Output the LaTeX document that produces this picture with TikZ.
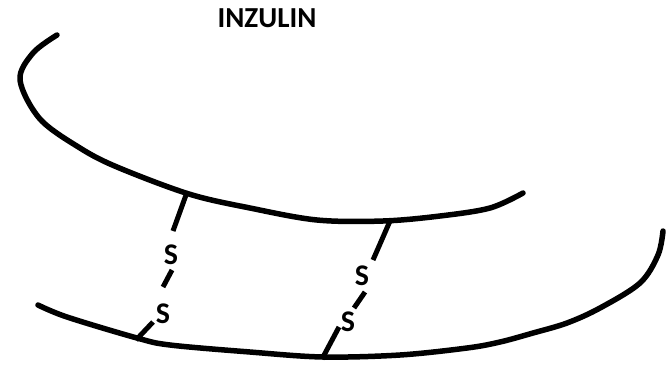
\documentclass[tikz,border=0pt]{standalone}
\usepackage{fontspec}
\setmainfont{Carlito}
\begin{document}
\begin{tikzpicture}[x=1pt,y=-1pt,
  chain/.style={line width=5.5pt,line cap=round,line join=round},
  bond/.style={line width=5pt},
  sulfur/.style={font=\fontsize{30}{30}\selectfont\bfseries,inner sep=0pt},
  title/.style={font=\fontsize{29}{29}\selectfont\bfseries,inner sep=0pt}]
\useasboundingbox (0,0) rectangle (669,365);

% title
\node[title] (label) at (267,18) {INZULIN};

% A chain (upper)
\draw[chain] plot[smooth,tension=0.55] coordinates {
  (57,35) (33,53) (20,80) (40,119) (80,148) (117,167) (189,194)
  (250,208) (317,220) (383,221) (440,216) (490,208) (523,193)};

% B chain (lower)
\draw[chain] plot[smooth,tension=0.55] coordinates {
  (38,305) (67,317) (137,338) (170,345) (250,352) (323,357)
  (400,355) (467,348) (500,342) (533,333) (567,323) (600,308)
  (640,283) (658,255) (663,231)};

% first disulfide bridge
\coordinate (ja) at (186,195);
\coordinate (ja1) at (173,231);
\node[sulfur] (sa1) at (171,255) {S};
\coordinate (ja2) at (172,270);
\coordinate (ja3) at (163,287);
\node[sulfur] (sa2) at (163,314) {S};
\coordinate (ja4) at (153,322);
\coordinate (jb) at (136,340);
\draw[bond] (ja) -- (ja1);
\draw[bond] (ja2) -- (ja3);
\draw[bond] (ja4) -- (jb);

% second disulfide bridge
\coordinate (ka) at (390,221);
\coordinate (ka1) at (373,260);
\node[sulfur] (sb1) at (362,276) {S};
\coordinate (ka2) at (365,292);
\coordinate (ka3) at (354,308);
\node[sulfur] (sb2) at (348,322) {S};
\coordinate (ka4) at (339,327);
\coordinate (kb) at (322,359);
\draw[bond] (ka) -- (ka1);
\draw[bond] (ka2) -- (ka3);
\draw[bond] (ka4) -- (kb);
\end{tikzpicture}
\end{document}
